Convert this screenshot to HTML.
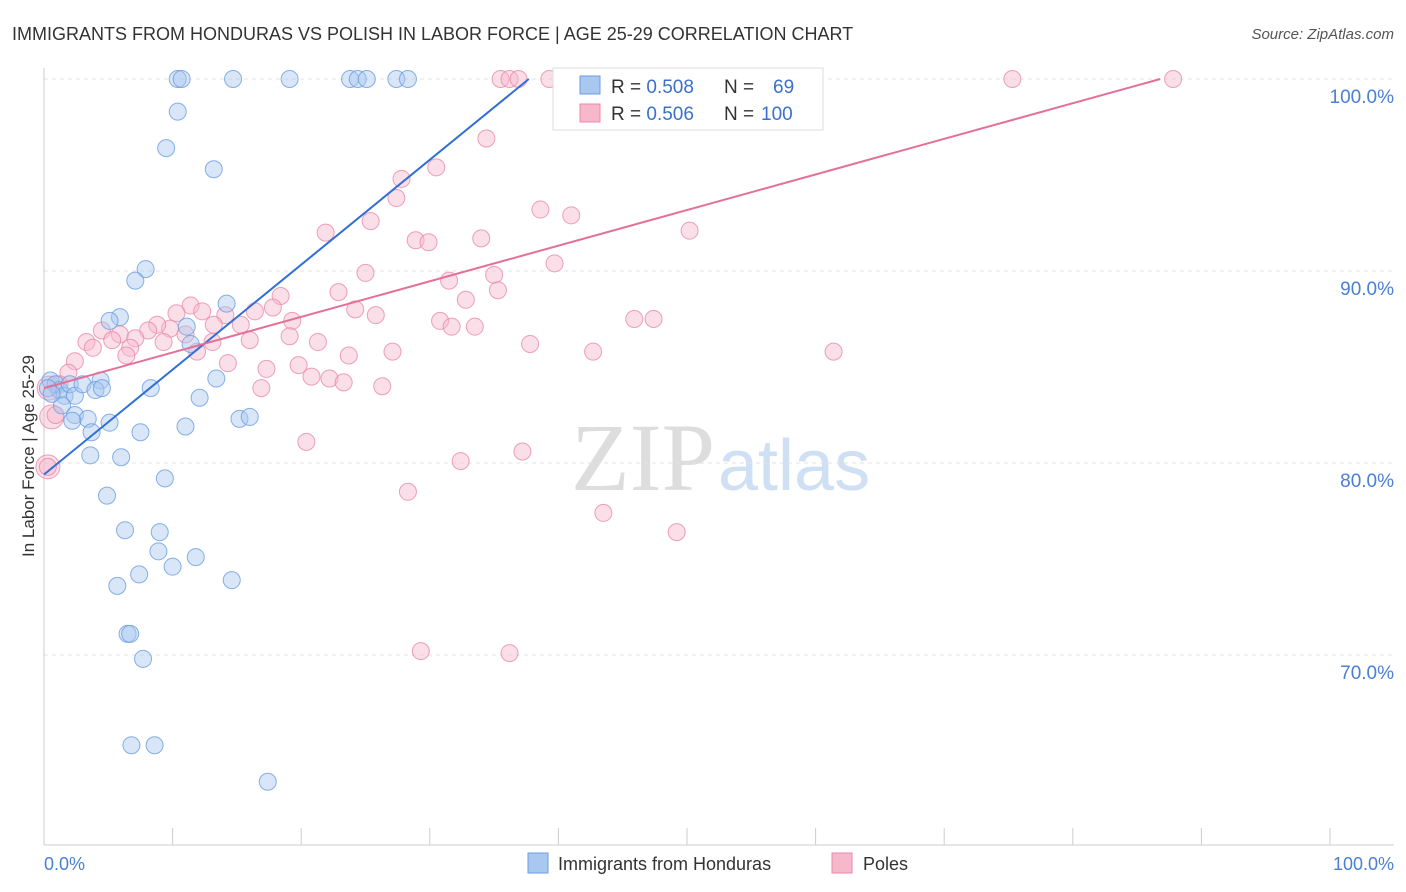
<!DOCTYPE html>
<html><head><meta charset="utf-8"><style>
body{margin:0;background:#fff;font-family:"Liberation Sans",sans-serif;}
svg{display:block}
</style></head><body>
<svg width="1406" height="892" id="chart">
<text x="12" y="40" font-size="18" fill="#333">IMMIGRANTS FROM HONDURAS VS POLISH IN LABOR FORCE | AGE 25-29 CORRELATION CHART</text>
<text x="1394" y="39" font-size="15" fill="#555" font-style="italic" text-anchor="end">Source: ZipAtlas.com</text>
<text x="715" y="490" font-size="96" fill="#ddd" font-family="Liberation Serif" text-anchor="end">ZIP</text>
<text x="718" y="490" font-size="72" fill="#cfe0f5">atlas</text>
<g id="grid"></g><g id="axes"></g><g id="marks"></g><g id="trend"></g>
<text transform="translate(34,456) rotate(-90)" font-size="17" fill="#333" text-anchor="middle">In Labor Force | Age 25-29</text>
<text x="44" y="870" font-size="18" fill="#4a7fd4">0.0%</text>
<text x="1394" y="870" font-size="18" fill="#4a7fd4" text-anchor="end">100.0%</text>
<g>
<rect x="553" y="68" width="270" height="62" fill="#fff" stroke="#ddd"/>
<rect x="580" y="76" width="20" height="18" fill="#a9c8f0" stroke="#6a9de0"/>
<rect x="580" y="104" width="20" height="18" fill="#f7b8cc" stroke="#e88aa8"/>
<text x="611" y="93" font-size="19" fill="#333">R = <tspan fill="#3a70cc">0.508</tspan><tspan x="724">N =</tspan><tspan fill="#3a70cc" x="773">69</tspan></text>
<text x="611" y="120" font-size="19" fill="#333">R = <tspan fill="#3a70cc">0.506</tspan><tspan x="724">N =</tspan><tspan fill="#3a70cc" x="761">100</tspan></text>
</g>
<g>
<rect x="528" y="853" width="20" height="20" fill="#a9c8f0" stroke="#6a9de0"/>
<text x="558" y="870" font-size="18" fill="#333">Immigrants from Honduras</text>
<rect x="832" y="853" width="20" height="20" fill="#f7b8cc" stroke="#e88aa8"/>
<text x="863" y="870" font-size="18" fill="#333">Poles</text>
</g>
</svg>
<script>
const yTicks=[100,90,80,70];
const yTickLabels=["100.0%","90.0%","80.0%","70.0%"];
const xTicks=[0,10,20,30,40,50,60,70,80,90,100];
const blueX=[10.4,10.7,14.7,19.1,23.8,24.4,25.1,27.4,28.3,10.4,9.5,13.2,7.9,7.1,14.2,5.9,5.1,11.1,11.4,0.5,0.9,1.2,1.6,2.0,2.4,3.0,4.4,4.0,4.5,1.4,2.4,3.4,2.2,5.1,3.7,7.5,11.0,12.1,13.4,8.3,15.2,16.0,3.6,6.0,9.4,4.9,6.3,9.0,8.9,11.8,10.0,7.4,14.6,5.7,6.5,6.7,7.7,6.8,8.6,17.4,0.3,0.6];
const blueY=[100,100,100,100,100,100,100,100,100,98.3,96.4,95.3,90.1,89.5,88.3,87.6,87.4,87.1,86.2,84.3,84.1,83.8,83.5,84.1,83.5,84.1,84.3,83.8,83.9,83.0,82.5,82.3,82.2,82.1,81.6,81.6,81.9,83.4,84.4,83.9,82.3,82.4,80.4,80.3,79.2,78.3,76.5,76.4,75.4,75.1,74.6,74.2,73.9,73.6,71.1,71.1,69.8,65.3,65.3,63.4,83.9,83.6];
const pinkX=[35.5,36.2,36.9,39.3,40.5,43.2,46.3,51.8,55.7,75.3,87.8,34.4,30.5,27.8,27.4,38.6,41.0,25.4,21.9,50.2,34.0,28.9,29.9,39.7,25.0,35.0,31.5,35.3,22.9,18.4,32.8,11.4,17.8,24.2,16.4,12.3,10.3,25.8,14.1,19.3,30.8,45.9,47.4,31.7,33.5,15.3,13.2,9.8,8.8,8.1,4.5,5.9,7.1,5.3,16.0,11.0,19.1,21.3,9.3,13.1,3.3,11.9,3.8,6.7,27.1,37.8,42.7,61.4,6.4,23.7,2.4,14.3,19.8,17.3,1.9,20.8,22.2,23.3,26.3,16.9,20.4,37.2,32.4,0.3,28.3,43.5,49.2,29.3,36.2,0.9,1.2];
const pinkY=[100,100,100,100,100,100,100,100,100,100,100,96.9,95.4,94.8,93.8,93.2,92.9,92.6,92.0,92.1,91.7,91.6,91.5,90.4,89.9,89.8,89.5,89.0,88.9,88.7,88.5,88.2,88.1,88.0,87.9,87.9,87.8,87.7,87.7,87.4,87.4,87.5,87.5,87.1,87.1,87.2,87.2,87.0,87.2,86.9,86.9,86.7,86.5,86.4,86.4,86.7,86.6,86.3,86.3,86.3,86.3,85.8,86.0,86.0,85.8,86.2,85.8,85.8,85.6,85.6,85.3,85.2,85.1,84.9,84.7,84.5,84.4,84.2,84.0,83.9,81.1,80.6,80.1,79.8,78.5,77.4,76.4,70.2,70.1,82.5,84.1];
const bigX=[0.4,0.6,0.3];
const bigY=[83.9,82.4,79.8];
const blueTrend=[[0,79.4],[37.7,100]];
const pinkTrend=[[0,83.9],[86.8,100]];
const NS="http://www.w3.org/2000/svg";
const X0=44,X1=1330,YTOP=79;
function sx(v){return X0+(X1-X0)*v/100;}
function sy(v){return YTOP+(100-v)*19.2;}
function mk(tag,attrs,parent){const e=document.createElementNS(NS,tag);for(const k in attrs)e.setAttribute(k,attrs[k]);document.getElementById(parent).appendChild(e);return e;}
yTicks.forEach((t,i)=>{
 const l=mk('line',{x1:44,x2:1394,y1:sy(t),y2:sy(t),stroke:'#e3e3e3','stroke-dasharray':'4,4'},'grid');
 
 
 const tx=mk('text',{x:1394,y:sy(t)+24,'font-size':19,fill:'#4a7fd4','text-anchor':'end'},'grid');
 tx.textContent=yTickLabels[i];
 
 
});
const ax=mk('line',{x1:44,x2:1394,y1:845,y2:845,stroke:'#ccc'},'axes');


const ay=mk('line',{x1:44,x2:44,y1:68,y2:845,stroke:'#ccc'},'axes');


xTicks.forEach(t=>{
 const l=mk('line',{x1:sx(t),x2:sx(t),y1:828,y2:845,stroke:'#ccc'},'axes');
 
 
});
function dots(xs,ys,fill,stroke,name,r){
 xs.forEach((x,i)=>{
  const c=mk('circle',{cx:sx(x),cy:sy(ys[i]),r:r,fill:fill,'fill-opacity':0.45,stroke:stroke,'stroke-opacity':0.8,'stroke-width':1},'marks');
  
  
 });
}
dots(bigX,bigY,'#f7b8cc','#e88aa8','poles-point-large',12);
dots(pinkX,pinkY,'#f7b8cc','#e88aa8','poles-point',8.5);
dots(blueX,blueY,'#a9c8f0','#6a9de0','honduras-point',8.5);
const bt=mk('line',{x1:sx(blueTrend[0][0]),y1:sy(blueTrend[0][1]),x2:sx(blueTrend[1][0]),y2:sy(blueTrend[1][1]),stroke:'#2f6fd6','stroke-width':2},'trend');


const pt=mk('line',{x1:sx(pinkTrend[0][0]),y1:sy(pinkTrend[0][1]),x2:sx(pinkTrend[1][0]),y2:sy(pinkTrend[1][1]),stroke:'#e4709a','stroke-width':2},'trend');


</script>
</body></html>
